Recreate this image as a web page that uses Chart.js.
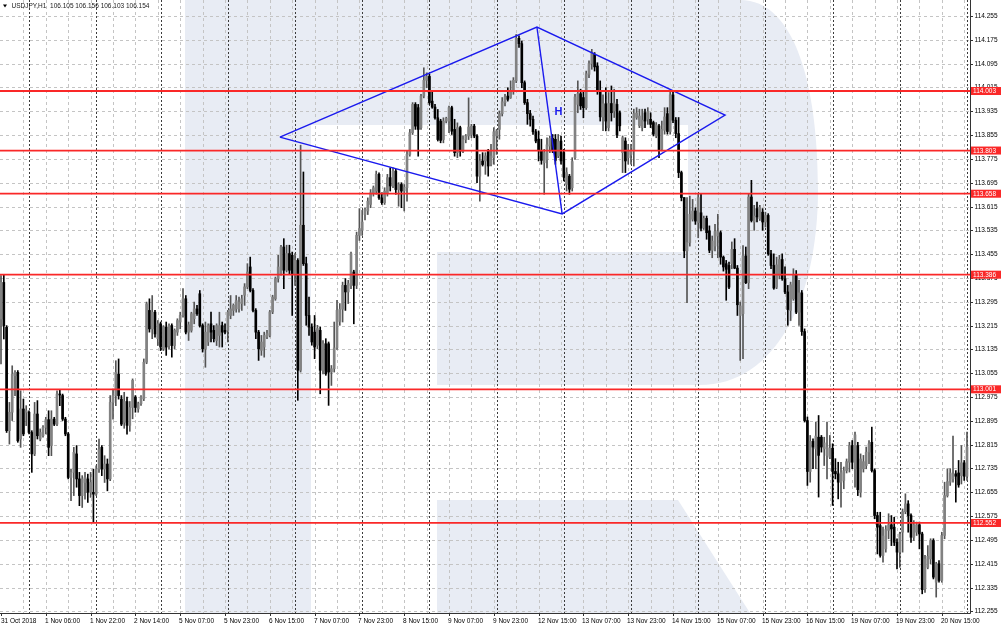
<!DOCTYPE html>
<html>
<head>
<meta charset="utf-8">
<title>USDJPY,H1</title>
<script src="https://cdn.jsdelivr.net/npm/chart.js@4.4.1/dist/chart.umd.min.js"></script>
<style>
  html, body { margin: 0; padding: 0; background: #fff; }
  #wrap { width: 1001px; height: 630px; }
</style>
</head>
<body>
<div id="wrap"><canvas id="chart" width="1001" height="630"></canvas></div>
<script>
// hourly bars, 31 Oct 2018 14:00 onwards (one value per bar)
const opens = [
  113.237,113.360,113.209,112.862,112.924,113.047,113.058,112.834,112.935,112.924,
  112.924,112.856,112.784,112.918,112.834,112.845,112.873,112.899,112.812,112.901,
  112.884,112.985,112.980,112.901,112.851,112.705,112.722,112.784,112.700,112.644,
  112.688,112.700,112.655,112.655,112.649,112.733,112.806,112.733,112.750,112.700,
  112.957,112.980,113.052,112.968,112.890,112.960,112.880,112.940,112.975,112.935,
  112.953,112.969,113.092,113.266,113.204,113.260,113.171,113.221,113.137,113.210,
  113.148,113.215,113.148,113.193,113.227,113.249,113.305,113.193,113.199,113.238,
  113.271,113.322,113.215,113.137,113.160,113.221,113.199,113.165,113.182,113.215,
  113.199,113.199,113.249,113.266,113.271,113.271,113.289,113.317,113.345,113.412,
  113.333,113.266,113.193,113.132,113.143,113.177,113.182,113.261,113.305,113.373,
  113.389,113.479,113.401,113.457,113.451,113.389,113.434,113.065,113.552,113.423,
  113.249,113.210,113.193,113.149,113.199,113.065,113.154,113.154,113.059,113.070,
  113.140,113.229,113.270,113.350,113.328,113.350,113.395,113.350,113.518,113.535,
  113.588,113.600,113.622,113.658,113.667,113.723,113.644,113.628,113.661,113.712,
  113.684,113.734,113.672,113.689,113.667,113.678,113.790,113.863,113.958,113.947,
  113.880,113.986,114.039,114.052,113.969,113.949,113.913,113.902,113.840,113.902,
  113.902,113.947,113.874,113.796,113.880,113.801,113.840,113.852,113.857,113.885,
  113.852,113.717,113.768,113.768,113.801,113.757,113.779,113.852,113.874,113.927,
  113.964,113.986,113.981,114.003,114.037,114.180,114.162,114.031,113.964,113.927,
  113.908,113.866,113.841,113.804,113.762,113.773,113.818,113.844,113.841,113.785,
  113.835,113.796,113.689,113.717,113.678,113.779,113.958,113.994,113.981,113.947,
  114.059,114.095,114.126,114.087,114.005,113.916,113.960,113.880,113.961,113.936,
  113.958,113.930,113.796,113.835,113.779,113.790,113.802,113.914,113.886,113.880,
  113.930,113.908,113.908,113.897,113.852,113.886,113.807,113.871,113.927,113.867,
  113.990,113.905,113.860,113.729,113.645,113.466,113.494,113.572,113.600,113.561,
  113.594,113.544,113.575,113.533,113.468,113.482,113.516,113.527,113.445,113.423,
  113.417,113.423,113.471,113.408,113.249,113.255,113.449,113.359,113.647,113.563,
  113.608,113.574,113.596,113.563,113.585,113.456,113.417,113.344,113.384,113.437,
  113.372,113.328,113.266,113.305,113.386,113.260,113.325,113.195,112.896,112.725,
  112.826,112.801,112.840,112.840,112.801,112.779,112.773,112.803,112.725,112.717,
  112.689,112.695,112.728,112.756,112.812,112.734,112.812,112.655,112.734,112.745,
  112.790,112.823,112.728,112.577,112.543,112.443,112.465,112.527,112.546,112.538,
  112.487,112.454,112.521,112.590,112.616,112.577,112.504,112.521,112.546,112.515,
  112.331,112.403,112.431,112.493,112.353,112.415,112.359,112.510,112.644,112.689,
  112.700,112.717,112.720,112.711,112.754,112.709
];
const highs = [
  113.383,113.385,113.215,112.957,113.080,113.064,113.064,112.996,112.968,112.946,
  112.929,112.862,112.957,112.963,112.868,112.879,112.907,112.929,112.929,112.907,
  112.996,113.000,112.985,112.907,112.856,112.733,112.806,112.812,112.722,112.711,
  112.722,112.716,112.722,112.733,112.744,112.834,112.812,112.778,112.767,112.980,
  113.002,113.097,113.103,112.980,112.991,112.975,112.960,113.036,112.980,112.958,
  112.980,113.103,113.294,113.305,113.316,113.266,113.232,113.227,113.215,113.227,
  113.221,113.221,113.204,113.238,113.260,113.339,113.316,113.227,113.260,113.294,
  113.283,113.333,113.221,113.227,113.221,113.260,113.215,113.221,113.260,113.227,
  113.221,113.266,113.316,113.288,113.316,113.311,113.317,113.356,113.423,113.445,
  113.339,113.272,113.199,113.182,113.193,113.199,113.266,113.317,113.378,113.451,
  113.485,113.507,113.485,113.485,113.462,113.457,113.440,113.821,113.731,113.445,
  113.311,113.221,113.249,113.216,113.210,113.165,113.171,113.160,113.081,113.227,
  113.300,113.289,113.361,113.373,113.367,113.462,113.401,113.529,113.608,113.602,
  113.611,113.644,113.672,113.684,113.734,113.728,113.661,113.678,113.723,113.745,
  113.745,113.740,113.695,113.695,113.689,113.801,113.874,113.964,113.964,113.958,
  113.992,114.081,114.064,114.059,114.003,113.958,113.941,113.908,113.913,113.915,
  113.952,113.952,113.908,113.896,113.885,113.852,113.857,113.980,113.891,113.891,
  113.857,113.790,113.796,113.796,113.807,113.824,113.880,113.874,113.936,113.981,
  113.992,114.014,114.037,114.048,114.193,114.188,114.171,114.037,113.975,113.938,
  113.919,113.874,113.869,113.841,113.807,113.846,113.852,113.857,113.857,113.857,
  113.852,113.807,113.745,113.723,113.779,113.992,114.037,114.009,114.003,114.070,
  114.104,114.143,114.132,114.098,114.037,113.990,114.014,113.998,114.020,114.009,
  113.975,113.936,113.852,113.846,113.824,113.824,113.942,113.947,113.942,113.942,
  113.942,113.947,113.930,113.902,113.897,113.891,113.902,113.947,113.947,114.003,
  114.003,113.914,113.914,113.734,113.645,113.645,113.650,113.639,113.611,113.656,
  113.656,113.583,113.583,113.550,113.516,113.555,113.589,113.533,113.449,113.434,
  113.428,113.496,113.507,113.417,113.294,113.484,113.479,113.658,113.703,113.619,
  113.630,113.619,113.608,113.596,113.591,113.468,113.456,113.445,113.451,113.456,
  113.412,113.350,113.361,113.406,113.400,113.367,113.333,113.204,112.908,112.846,
  112.835,112.891,112.913,112.846,112.840,112.891,112.846,112.818,112.768,112.756,
  112.756,112.740,112.767,112.823,112.829,112.857,112.823,112.784,112.779,112.807,
  112.829,112.874,112.734,112.588,112.588,112.538,112.543,112.583,112.577,112.571,
  112.499,112.521,112.599,112.650,112.627,112.583,112.560,112.555,112.555,112.521,
  112.443,112.476,112.499,112.499,112.420,112.426,112.521,112.689,112.734,112.734,
  112.844,112.728,112.762,112.812,112.762,112.857
];
const lows = [
  113.086,113.170,112.856,112.817,112.896,112.980,112.823,112.806,112.845,112.879,
  112.851,112.722,112.778,112.834,112.828,112.840,112.851,112.778,112.778,112.879,
  112.879,112.946,112.896,112.845,112.700,112.627,112.644,112.672,112.610,112.604,
  112.632,112.621,112.638,112.554,112.644,112.722,112.711,112.688,112.660,112.694,
  112.901,112.946,112.968,112.879,112.870,112.850,112.860,112.902,112.924,112.924,
  112.947,112.963,113.087,113.193,113.171,113.176,113.148,113.131,113.131,113.115,
  113.137,113.109,113.137,113.182,113.204,113.243,113.187,113.165,113.193,113.221,
  113.249,113.210,113.126,113.075,113.148,113.160,113.160,113.148,113.143,113.143,
  113.187,113.160,113.238,113.249,113.260,113.260,113.266,113.283,113.339,113.328,
  113.261,113.171,113.098,113.115,113.109,113.171,113.177,113.255,113.300,113.361,
  113.384,113.339,113.395,113.389,113.249,113.350,112.964,113.059,113.417,113.216,
  113.182,113.149,113.104,113.137,112.986,113.053,113.048,112.947,113.014,113.059,
  113.135,113.216,113.227,113.266,113.289,113.339,113.221,113.339,113.501,113.518,
  113.570,113.588,113.611,113.650,113.656,113.639,113.622,113.622,113.650,113.667,
  113.678,113.656,113.616,113.611,113.600,113.633,113.784,113.857,113.874,113.784,
  113.874,113.980,114.014,113.958,113.945,113.908,113.835,113.829,113.829,113.896,
  113.863,113.857,113.784,113.779,113.784,113.796,113.829,113.840,113.846,113.846,
  113.695,113.633,113.751,113.723,113.717,113.751,113.757,113.790,113.841,113.919,
  113.953,113.969,113.978,113.992,114.031,114.149,114.014,113.958,113.891,113.885,
  113.857,113.829,113.768,113.757,113.656,113.745,113.796,113.796,113.757,113.779,
  113.757,113.701,113.667,113.656,113.667,113.773,113.930,113.941,113.913,113.941,
  114.048,114.076,114.070,113.992,113.902,113.870,113.869,113.869,113.902,113.914,
  113.846,113.869,113.729,113.729,113.757,113.757,113.751,113.908,113.880,113.869,
  113.880,113.891,113.880,113.852,113.846,113.779,113.802,113.858,113.858,113.858,
  113.897,113.846,113.712,113.634,113.443,113.292,113.482,113.566,113.555,113.510,
  113.533,113.538,113.505,113.460,113.443,113.466,113.443,113.421,113.398,113.300,
  113.339,113.406,113.406,113.249,113.098,113.104,113.356,113.339,113.563,113.535,
  113.563,113.568,113.535,113.546,113.451,113.406,113.337,113.339,113.372,113.367,
  113.322,113.216,113.232,113.300,113.255,113.216,113.182,112.891,112.678,112.689,
  112.734,112.734,112.639,112.790,112.745,112.700,112.768,112.611,112.700,112.633,
  112.605,112.667,112.720,112.723,112.734,112.672,112.644,112.639,112.723,112.734,
  112.751,112.723,112.566,112.448,112.437,112.420,112.454,112.499,112.476,112.476,
  112.398,112.403,112.454,112.583,112.521,112.487,112.493,112.510,112.465,112.314,
  112.319,112.398,112.415,112.364,112.303,112.353,112.353,112.499,112.639,112.678,
  112.689,112.622,112.672,112.683,112.695,112.695
];
const closes = [
  113.360,113.215,112.862,112.924,113.052,113.058,112.828,112.935,112.851,112.929,
  112.856,112.784,112.918,112.845,112.856,112.873,112.899,112.806,112.901,112.884,
  112.985,112.982,112.901,112.851,112.705,112.722,112.789,112.700,112.644,112.700,
  112.705,112.655,112.688,112.649,112.733,112.800,112.733,112.750,112.700,112.957,
  112.980,113.058,112.980,112.884,112.960,112.880,112.940,113.031,112.940,112.953,
  112.975,113.092,113.288,113.204,113.260,113.187,113.221,113.143,113.210,113.143,
  113.215,113.148,113.199,113.232,113.249,113.305,113.193,113.218,113.255,113.271,
  113.255,113.215,113.137,113.193,113.215,113.193,113.171,113.215,113.215,113.193,
  113.193,113.260,113.271,113.283,113.299,113.294,113.305,113.345,113.395,113.333,
  113.266,113.193,113.137,113.160,113.182,113.188,113.261,113.311,113.373,113.412,
  113.479,113.401,113.457,113.401,113.389,113.434,113.065,113.552,113.423,113.249,
  113.210,113.160,113.143,113.205,113.065,113.154,113.053,113.059,113.070,113.140,
  113.266,113.270,113.350,113.328,113.356,113.457,113.350,113.518,113.541,113.563,
  113.605,113.633,113.661,113.678,113.723,113.644,113.628,113.667,113.712,113.684,
  113.734,113.672,113.689,113.667,113.680,113.790,113.863,113.958,113.885,113.874,
  113.986,114.039,114.052,113.964,113.949,113.913,113.840,113.837,113.902,113.911,
  113.947,113.868,113.796,113.880,113.801,113.840,113.852,113.882,113.885,113.852,
  113.717,113.768,113.756,113.785,113.751,113.785,113.866,113.869,113.927,113.967,
  113.983,113.975,114.005,114.039,114.180,114.162,114.031,113.964,113.927,113.908,
  113.866,113.835,113.804,113.770,113.796,113.822,113.844,113.804,113.770,113.833,
  113.768,113.714,113.729,113.673,113.766,113.983,113.994,113.953,113.947,114.061,
  114.095,114.132,114.084,114.005,113.916,113.960,113.902,113.961,113.930,113.963,
  113.855,113.886,113.846,113.768,113.804,113.802,113.927,113.929,113.919,113.905,
  113.902,113.934,113.891,113.858,113.889,113.804,113.874,113.916,113.867,113.990,
  113.905,113.860,113.729,113.645,113.466,113.494,113.589,113.600,113.566,113.645,
  113.542,113.575,113.527,113.468,113.499,113.531,113.531,113.445,113.412,113.404,
  113.344,113.471,113.408,113.285,113.281,113.449,113.359,113.647,113.568,113.583,
  113.580,113.613,113.563,113.585,113.456,113.417,113.341,113.419,113.437,113.372,
  113.328,113.269,113.352,113.386,113.260,113.325,113.195,112.896,112.725,112.826,
  112.807,112.844,112.779,112.807,112.821,112.807,112.803,112.725,112.717,112.689,
  112.721,112.728,112.758,112.812,112.756,112.848,112.664,112.767,112.758,112.790,
  112.818,112.728,112.577,112.538,112.443,112.508,112.530,112.546,112.532,112.487,
  112.454,112.515,112.590,112.616,112.577,112.504,112.546,112.546,112.515,112.328,
  112.431,112.440,112.493,112.370,112.415,112.359,112.510,112.644,112.691,112.720,
  112.717,112.709,112.680,112.754,112.709,112.807
];

// time axis: one label every 16 bars, first bar of each trading day
const timeLabels = [
  '31 Oct 2018', '1 Nov 06:00', '1 Nov 22:00', '2 Nov 14:00', '5 Nov 07:00', '5 Nov 23:00',
  '6 Nov 15:00', '7 Nov 07:00', '7 Nov 23:00', '8 Nov 15:00', '9 Nov 07:00', '9 Nov 23:00',
  '12 Nov 15:00', '13 Nov 07:00', '13 Nov 23:00', '14 Nov 15:00', '15 Nov 07:00', '15 Nov 23:00',
  '16 Nov 15:00', '19 Nov 07:00', '19 Nov 23:00', '20 Nov 15:00'
];
const labelEvery = 16;
const dayStarts = [10, 34, 57, 81, 105, 129, 153, 177, 201, 225, 249, 273, 297, 321, 345];

// price axis
const priceTicks = [
  112.255, 112.335, 112.415, 112.495, 112.575, 112.655, 112.735, 112.815, 112.895,
  112.975, 113.055, 113.135, 113.215, 113.295, 113.375, 113.455, 113.535, 113.615,
  113.695, 113.775, 113.855, 113.935, 114.015, 114.095, 114.175, 114.255
];

// horizontal support / resistance levels
const levels = [114.003, 113.803, 113.658, 113.386, 113.001, 112.552];

// diamond pattern vertices: left, top, right, bottom (bar index / price)
const patternX = [99.6, 191.4, 258.6, 200.4];
const patternY = [113.848, 114.218, 113.922, 113.590];
const patternMark = { x: 199.1, y: 113.932, text: 'H' };

const header = 'USDJPY,H1  106.105 106.156 106.103 106.154';

const FONT = '"Liberation Sans", Arial, sans-serif';
const BULL = '#828282';
const BULL_WICK = '#555555';
const BEAR = '#000000';
const RED = 'rgb(250,40,40)';
const BLUE = '#1a1aee';

const bodies = opens.map((o, i) => ({ x: i, y: [o, closes[i]] }));
const wicks = opens.map((o, i) => ({
  x: i,
  y: [Math.min(lows[i], o, closes[i]), Math.max(highs[i], o, closes[i])]
}));
const isBull = opens.map((o, i) => closes[i] >= o);

const diamond = [0, 1, 2, 3, 0].map(k => ({ x: patternX[k], y: patternY[k] }));
const diagonal = [1, 3].map(k => ({ x: patternX[k], y: patternY[k] }));

const X_MIN = -0.36, X_MAX = 346.07;

// light "R" watermark drawn behind the grid (designed for a 970x613 plot)
const backdrop = {
  id: 'backdrop',
  beforeDraw(chart) {
    const c = chart.ctx;
    c.save();
    c.fillStyle = '#fff';
    c.fillRect(0, 0, chart.width, chart.height);
    c.restore();
  },
  beforeDatasetsDraw(chart) {
    const c = chart.ctx;
    const a = chart.chartArea;
    const sx = v => a.left + v * a.width / 970;
    const sy = v => a.top + v * a.height / 613;
    const xs = chart.scales.x, ys = chart.scales.y;

    c.save();
    c.beginPath();
    c.rect(a.left, a.top, a.width, a.height);
    c.clip();

    c.fillStyle = '#e8ecf4';
    // stem
    c.fillRect(sx(185), sy(0), sx(311) - sx(185), sy(613) - sy(0));
    // bowl
    c.beginPath();
    c.moveTo(sx(311), sy(0));
    c.lineTo(sx(740), sy(0));
    c.bezierCurveTo(sx(795), sy(0), sx(818), sy(85), sx(818), sy(190));
    c.bezierCurveTo(sx(818), sy(300), sx(775), sy(385), sx(700), sy(385));
    c.lineTo(sx(437), sy(385));
    c.lineTo(sx(437), sy(252));
    c.lineTo(sx(688), sy(252));
    c.lineTo(sx(688), sy(125));
    c.lineTo(sx(311), sy(125));
    c.closePath();
    c.fill();
    // leg
    c.beginPath();
    c.moveTo(sx(437), sy(500));
    c.lineTo(sx(678), sy(500));
    c.lineTo(sx(750), sy(613));
    c.lineTo(sx(437), sy(613));
    c.closePath();
    c.fill();

    // grid
    c.lineWidth = 1;
    c.strokeStyle = '#c4c4c4';
    c.setLineDash([3, 3]);
    priceTicks.forEach(p => {
      const y = Math.round(ys.getPixelForValue(p)) + 0.5;
      c.beginPath();
      c.moveTo(a.left, y);
      c.lineTo(a.right, y);
      c.stroke();
    });
    for (let i = 8; i < opens.length; i += 8) {
      const x = Math.round(xs.getPixelForValue(i)) + 0.5;
      c.beginPath();
      c.moveTo(x, a.top);
      c.lineTo(x, a.bottom);
      c.stroke();
    }
    // period separators
    c.strokeStyle = '#3c3c3c';
    c.setLineDash([2, 2]);
    dayStarts.forEach(i => {
      const x = Math.round(xs.getPixelForValue(i)) + 0.5;
      c.beginPath();
      c.moveTo(x, a.top);
      c.lineTo(x, a.bottom);
      c.stroke();
    });
    c.restore();
  }
};

// axes, labels, level tags, header
const overlay = {
  id: 'overlay',
  afterDraw(chart) {
    const c = chart.ctx;
    const a = chart.chartArea;
    const xs = chart.scales.x, ys = chart.scales.y;
    c.save();

    c.strokeStyle = '#333';
    c.lineWidth = 1;
    c.beginPath();
    c.moveTo(a.right + 0.5, a.top);
    c.lineTo(a.right + 0.5, a.bottom + 0.5);
    c.lineTo(a.left, a.bottom + 0.5);
    c.stroke();

    c.font = '6.5px ' + FONT;
    c.fillStyle = '#000';
    c.textBaseline = 'middle';
    c.textAlign = 'left';

    priceTicks.forEach(p => {
      const y = Math.round(ys.getPixelForValue(p)) + 0.5;
      c.beginPath();
      c.moveTo(a.right, y);
      c.lineTo(a.right + 3, y);
      c.stroke();
      c.fillText(p.toFixed(3), a.right + 4.5, y);
    });

    timeLabels.forEach((t, k) => {
      const x = Math.round(xs.getPixelForValue(k * labelEvery)) + 0.5;
      c.beginPath();
      c.moveTo(x, a.bottom);
      c.lineTo(x, a.bottom + 3);
      c.stroke();
      c.fillText(t, Math.max(a.left + 1, x - 1.5), a.bottom + 8);
    });

    levels.forEach(l => {
      const y = ys.getPixelForValue(l);
      c.fillStyle = RED;
      c.fillRect(a.right + 1, y - 4, 30, 8);
      c.fillStyle = '#fff';
      c.fillText(l.toFixed(3), a.right + 3, y + 0.3);
    });

    // pattern mark
    c.fillStyle = BLUE;
    c.font = 'bold 11px ' + FONT;
    c.textAlign = 'center';
    c.fillText(patternMark.text, xs.getPixelForValue(patternMark.x), ys.getPixelForValue(patternMark.y));

    // header
    c.fillStyle = '#000';
    c.beginPath();
    c.moveTo(a.left + 3, a.top + 4.5);
    c.lineTo(a.left + 7, a.top + 4.5);
    c.lineTo(a.left + 5, a.top + 7.5);
    c.closePath();
    c.fill();
    c.fillStyle = '#1a1a1a';
    c.font = '6.5px ' + FONT;
    c.textAlign = 'left';
    c.fillText(header, a.left + 11.5, a.top + 6.5);

    c.restore();
  }
};

const levelSets = levels.map(l => ({
  type: 'line',
  data: [{ x: X_MIN, y: l }, { x: X_MAX, y: l }],
  borderColor: RED,
  borderWidth: 1.8,
  pointRadius: 0,
  order: 0
}));

new Chart(document.getElementById('chart'), {
  data: {
    datasets: [
      ...levelSets,
      {
        type: 'line',
        data: diamond,
        borderColor: BLUE,
        borderWidth: 1.4,
        pointRadius: 0,
        tension: 0,
        order: 0
      },
      {
        type: 'line',
        data: diagonal,
        borderColor: BLUE,
        borderWidth: 1.4,
        pointRadius: 0,
        order: 0
      },
      {
        type: 'bar',
        data: bodies,
        backgroundColor: isBull.map(b => b ? BULL : BEAR),
        barThickness: 2,
        minBarLength: 1,
        grouped: false,
        order: 1
      },
      {
        type: 'bar',
        data: wicks,
        backgroundColor: isBull.map(b => b ? BULL_WICK : BEAR),
        barThickness: 1,
        grouped: false,
        order: 2
      }
    ]
  },
  options: {
    responsive: false,
    animation: false,
    devicePixelRatio: 1,
    layout: { padding: { left: 0, top: 0, right: 31, bottom: 17 } },
    plugins: {
      legend: { display: false },
      tooltip: { enabled: false }
    },
    scales: {
      x: { type: 'linear', min: X_MIN, max: X_MAX, offset: false, display: false },
      y: { type: 'linear', min: 112.2496, max: 114.3087, display: false }
    }
  },
  plugins: [backdrop, overlay]
});
</script>
</body>
</html>
